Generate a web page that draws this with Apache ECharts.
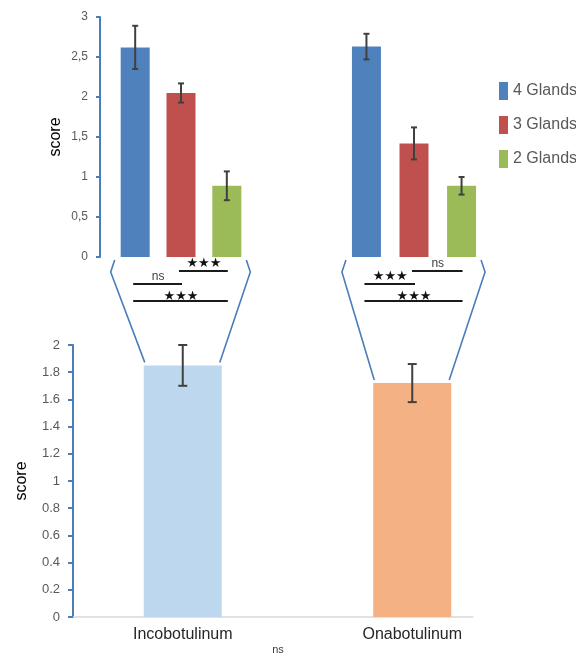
<!DOCTYPE html>
<html><head><meta charset="utf-8">
<script src="https://cdn.jsdelivr.net/npm/echarts@6/dist/echarts.min.js"></script>
<style>html,body{margin:0;padding:0;background:#fff}#c{width:576px;height:656px}</style>
</head><body><div id="c"></div>
<script>
// ---- data ----
const groups = ['Incobotulinum', 'Onabotulinum'];
const glandNames = ['4 Glands', '3 Glands', '2 Glands'];
const incoMeans = [2.62, 2.05, 0.89];
const incoErrs = [0.27, 0.12, 0.18];
const onaMeans = [2.63, 1.42, 0.89];
const onaErrs = [0.16, 0.20, 0.11];
const totalMeans = [1.85, 1.72];
const totalErrs = [0.15, 0.14];
const topTickLabels = ['0', '0,5', '1', '1,5', '2', '2,5', '3'];
const bottomTickLabels = ['0', '0.2', '0.4', '0.6', '0.8', '1', '1.2', '1.4', '1.6', '1.8', '2'];
// significance comparisons: [barA, barB, label, level]
const incoSig = [[1, 2, '★★★', 0], [0, 1, 'ns', 1], [0, 2, '★★★', 2]];
const onaSig = [[1, 2, 'ns', 0], [0, 1, '★★★', 1], [0, 2, '★★★', 2]];
const overallSig = 'ns';

// ---- styles ----
const glandColors = ['#4f81bd', '#c0504d', '#9bbb59'];
const totalColors = ['#bdd7ee', '#f4b183'];
const axisBlue = '#4a7ebb';
const tickGray = '#595959';
const errColor = '#404040';
const topBarW = 29;
const gapL = 0.58, gapR = 0.64;
const botBarW = 78;

const chart = echarts.init(document.getElementById('c'), null, {renderer: 'canvas'});

function errRender(pitch, capHalf, nBars) {
  return function (params, api) {
    const cat = api.value(0), k = api.value(1), m = api.value(2), e = api.value(3);
    const c = api.coord([cat, m]);
    const x = c[0] + (k - (nBars - 1) / 2) * pitch;
    const y1 = api.coord([cat, m + e])[1];
    const y2 = api.coord([cat, m - e])[1];
    const st = {stroke: errColor, lineWidth: 2};
    return {type: 'group', children: [
      {type: 'line', shape: {x1: x, y1: y1, x2: x, y2: y2}, style: st},
      {type: 'line', shape: {x1: x - capHalf, y1: y1, x2: x + capHalf, y2: y1}, style: st},
      {type: 'line', shape: {x1: x - capHalf, y1: y2, x2: x + capHalf, y2: y2}, style: st}
    ]};
  };
}

const series = [];
const groupData = [[incoMeans, incoErrs, 0, 0, gapL], [onaMeans, onaErrs, 1, 1, gapR]];
groupData.forEach(function (gd) {
  const means = gd[0], errs = gd[1], xi = gd[2], yi = gd[3], gap = gd[4];
  glandNames.forEach(function (name, k) {
    series.push({
      type: 'bar', name: name, xAxisIndex: xi, yAxisIndex: yi,
      data: [means[k]], barWidth: topBarW, barGap: (gap * 100) + '%',
      itemStyle: {color: glandColors[k]}, silent: true
    });
  });
  series.push({
    type: 'custom', xAxisIndex: xi, yAxisIndex: yi, z: 10, silent: true,
    renderItem: errRender(topBarW * (1 + gap), 3, 3),
    encode: {x: 0, y: 2},
    data: means.map(function (m, k) { return [0, k, m, errs[k]]; })
  });
});
series.push({
  type: 'bar', xAxisIndex: 3, yAxisIndex: 3, barWidth: botBarW, silent: true,
  data: totalMeans.map(function (v, i) { return {value: v, itemStyle: {color: totalColors[i]}}; })
});
series.push({
  type: 'custom', xAxisIndex: 3, yAxisIndex: 3, z: 10, silent: true,
  renderItem: errRender(0, 4.5, 1),
  encode: {x: 0, y: 2},
  data: totalMeans.map(function (m, i) { return [i, 0, m, totalErrs[i]]; })
});

const font = 'Liberation Sans, Arial, sans-serif';

const option = {
  animation: false,
  textStyle: {fontFamily: font},
  grid: [
    {left: 100, top: 17, width: 162, height: 240},
    {left: 333, top: 17, width: 162, height: 240},
    {left: 73, top: 345, width: 400, height: 272},
    {left: 68, top: 345, width: 459, height: 272}
  ],
  legend: {
    orient: 'vertical', left: 494, top: 77, itemWidth: 9, itemHeight: 18, itemGap: 16,
    icon: 'rect', data: glandNames, selectedMode: false,
    textStyle: {fontSize: 16, color: tickGray, fontFamily: font}
  },
  xAxis: [
    {type: 'category', gridIndex: 0, data: [groups[0]], show: false},
    {type: 'category', gridIndex: 1, data: [groups[1]], show: false},
    {type: 'category', gridIndex: 2, data: groups, axisLine: {lineStyle: {color: '#d9d9d9', width: 1.5}},
      axisTick: {show: false}, axisLabel: {show: false}},
    {type: 'category', gridIndex: 3, data: groups, axisLine: {show: false}, axisTick: {show: false},
      axisLabel: {fontSize: 16, color: '#262626', margin: 10}}
  ],
  yAxis: [
    {type: 'value', gridIndex: 0, min: 0, max: 3, interval: 0.5, position: 'left',
      axisLine: {show: true, lineStyle: {color: axisBlue, width: 2}},
      axisTick: {show: true, length: 4, lineStyle: {color: axisBlue, width: 2}},
      splitLine: {show: false},
      axisLabel: {fontSize: 12, color: tickGray, margin: 12,
        formatter: function (v) { return topTickLabels[Math.round(v / 0.5)]; }},
      name: 'score', nameLocation: 'middle', nameGap: 36,
      nameTextStyle: {fontSize: 16, color: '#000'}},
    {type: 'value', gridIndex: 1, min: 0, max: 3, show: false, splitLine: {show: false}},
    {type: 'value', gridIndex: 2, min: 0, max: 2, interval: 0.2, position: 'left',
      axisLine: {show: true, lineStyle: {color: axisBlue, width: 2}},
      axisTick: {show: true, length: 5, lineStyle: {color: axisBlue, width: 2}},
      splitLine: {show: false},
      axisLabel: {fontSize: 13, color: tickGray, margin: 13,
        formatter: function (v) { return bottomTickLabels[Math.round(v / 0.2)]; }},
      name: 'score', nameLocation: 'middle', nameGap: 43,
      nameTextStyle: {fontSize: 16, color: '#000'}},
    {type: 'value', gridIndex: 3, min: 0, max: 2, show: false, splitLine: {show: false}}
  ],
  series: series
};
chart.setOption(option);

// ---- annotations derived from axis positions ----
const graphics = [];
const lineStyle = {stroke: '#1a1a1a', lineWidth: 1.8};
function barCenters(xi, yi, gap) {
  const c = chart.convertToPixel({xAxisIndex: xi, yAxisIndex: yi}, [0, 0]);
  const pitch = topBarW * (1 + gap);
  return {xs: [c[0] - pitch, c[0], c[0] + pitch], y0: c[1]};
}
const topGroups = [
  {bc: barCenters(0, 0, gapL), sig: incoSig},
  {bc: barCenters(1, 1, gapR), sig: onaSig}
];
const levelOff = [14, 27, 44];
topGroups.forEach(function (tg, gi) {
  const xs = tg.bc.xs, y0 = tg.bc.y0;
  const bt = chart.convertToPixel({xAxisIndex: 3, yAxisIndex: 3}, [gi, totalMeans[gi]]);
  const bl = bt[0] - botBarW / 2, br = bt[0] + botBarW / 2;
  const xl = xs[0] - topBarW / 2, xr = xs[2] + topBarW / 2;
  graphics.push({type: 'polyline', silent: true,
    shape: {points: [[xl - 6, y0 + 3], [xl - 10, y0 + 15], [bl + 1, bt[1] - 3]]},
    style: {stroke: axisBlue, lineWidth: 1.6, fill: null}});
  graphics.push({type: 'polyline', silent: true,
    shape: {points: [[xr + 5, y0 + 3], [xr + 9, y0 + 15], [br - 2, bt[1] - 3]]},
    style: {stroke: axisBlue, lineWidth: 1.6, fill: null}});
  tg.sig.forEach(function (s) {
    const x1 = xs[s[0]] - 2, x2 = xs[s[1]] + 1, y = y0 + levelOff[s[3]];
    graphics.push({type: 'line', silent: true, shape: {x1: x1, y1: y, x2: x2, y2: y}, style: lineStyle});
    const isStar = s[2] !== 'ns';
    const ty = s[3] === 2 ? y + 2 : y - 1;
    graphics.push({type: 'text', silent: true, x: (xs[s[0]] + xs[s[1]]) / 2, y: ty,
      style: {text: s[2], fill: isStar ? '#111' : '#404040',
        font: isStar ? '13px DejaVu Sans' : '12px Liberation Sans',
        textAlign: 'center', textVerticalAlign: 'bottom', align: 'center', verticalAlign: 'bottom'}});
  });
});
graphics.push({type: 'text', silent: true, x: 278, y: 650,
  style: {text: overallSig, fill: '#404040', font: '11px Liberation Sans',
    textAlign: 'center', textVerticalAlign: 'middle', align: 'center', verticalAlign: 'middle'}});
chart.setOption({graphic: graphics});
</script>
</body></html>
